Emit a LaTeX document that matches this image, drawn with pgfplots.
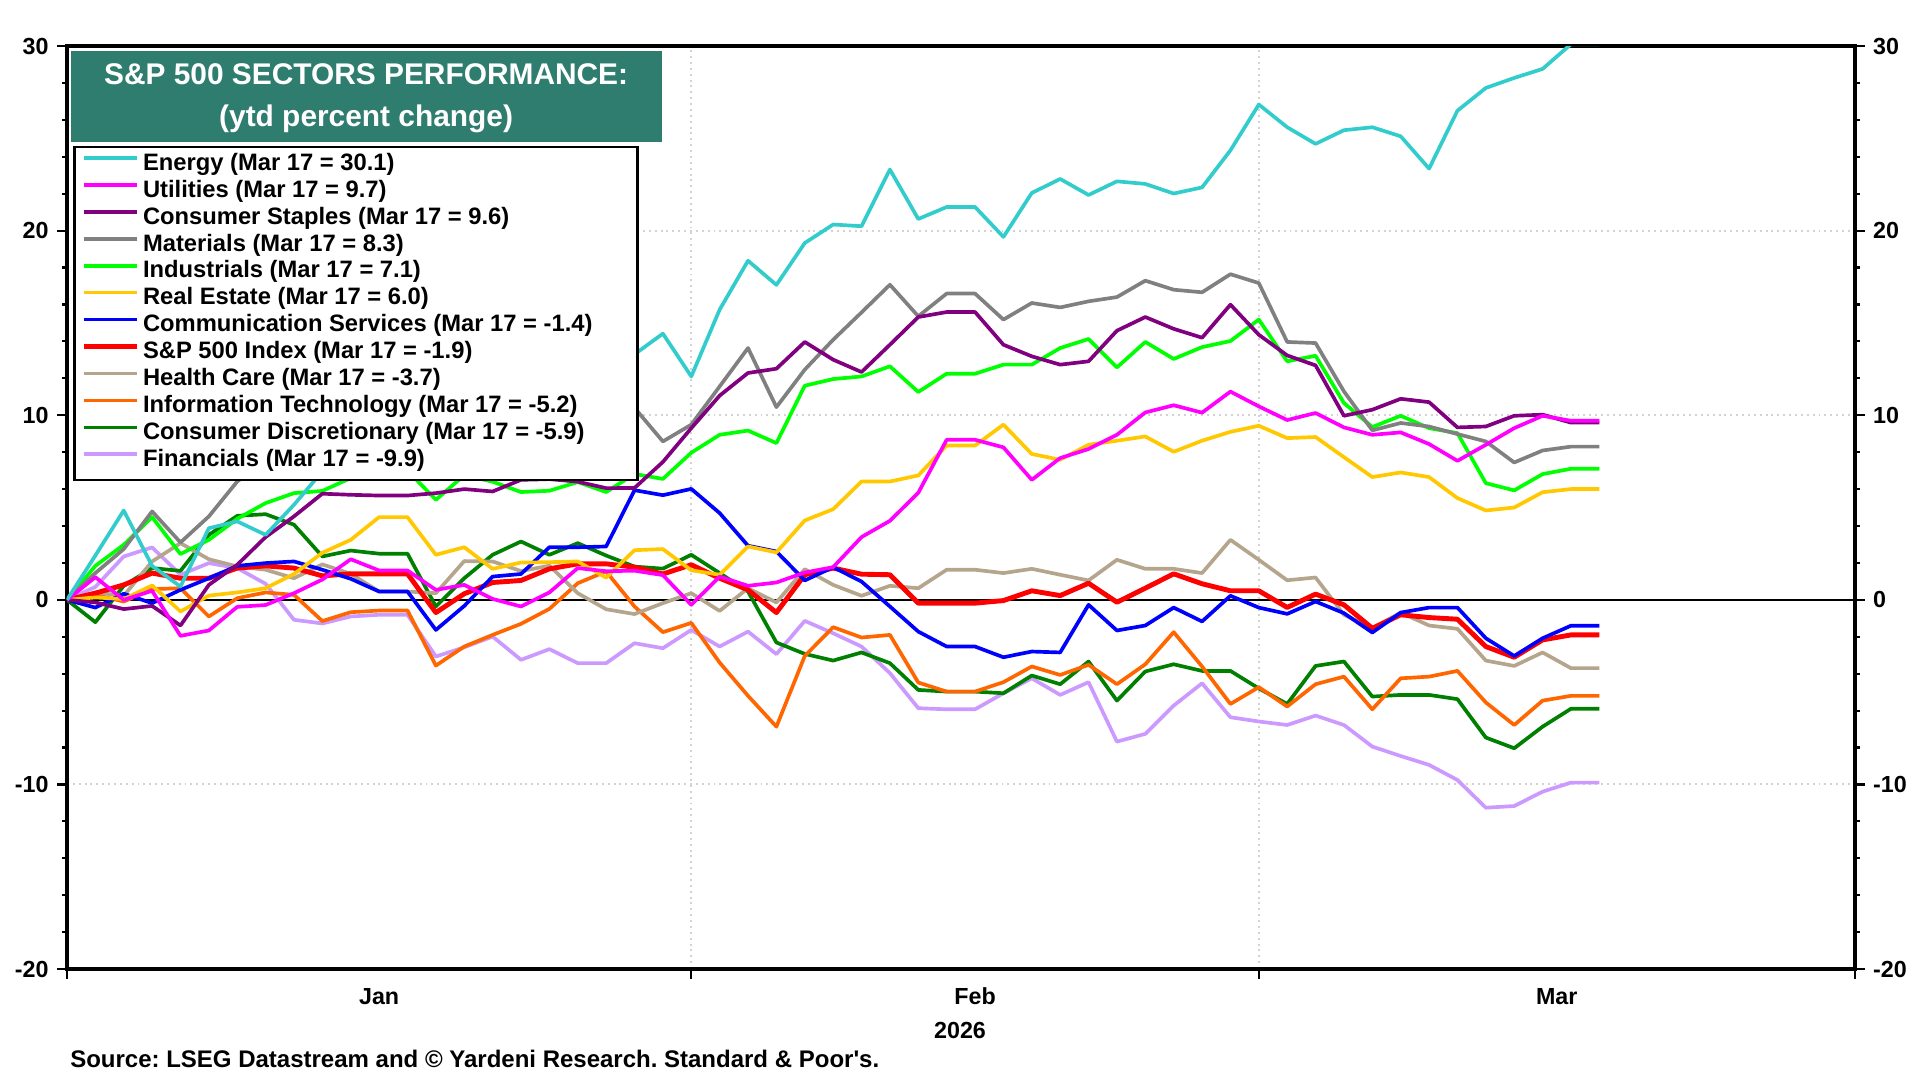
\documentclass[border=0pt]{standalone}
\usepackage{fontspec}
\setmainfont{Liberation Sans}
\usepackage{pgfplots}
\usepackage{pgfplotstable}
\pgfplotsset{compat=1.18}
\frenchspacing
\definecolor{cEn}{RGB}{51,204,204}
\definecolor{cUt}{RGB}{255,0,255}
\definecolor{cSt}{RGB}{128,0,128}
\definecolor{cMa}{RGB}{128,128,128}
\definecolor{cIn}{RGB}{0,255,0}
\definecolor{cRe}{RGB}{255,200,0}
\definecolor{cCo}{RGB}{0,0,255}
\definecolor{cSp}{RGB}{255,0,0}
\definecolor{cHc}{RGB}{180,165,140}
\definecolor{cIt}{RGB}{255,102,0}
\definecolor{cCd}{RGB}{0,128,0}
\definecolor{cFi}{RGB}{204,153,255}
\definecolor{cTitle}{RGB}{47,125,110}
\pgfplotstableread{
i en ut st ma in re co sp hc it cd fi
0 0 0 0 0 0 0 0 0 0 0 0 0
1 2.4 1.23 -0.14 1.45 1.84 0.13 -0.42 0.36 0.4 0.27 -1.21 0.7
2 4.84 0 -0.5 2.75 2.98 0.04 0.33 0.81 0.22 -0.09 0.76 2.35
3 1.84 0.49 -0.33 4.79 4.48 0.78 -0.18 1.45 2.08 0.58 1.72 2.84
4 0.72 -1.95 -1.39 3.11 2.48 -0.63 0.54 1.17 3.07 0.63 1.57 1.36
5 3.88 -1.66 0.81 4.52 3.25 0.23 1.17 1.17 2.2 -0.9 3.52 1.99
6 4.25 -0.38 1.9 6.41 4.39 0.4 1.84 1.72 1.81 0.09 4.55 1.72
7 3.52 -0.28 3.4 7.6 5.24 0.63 1.99 1.84 1.63 0.4 4.64 0.87
8 5.15 0.36 4.52 8.2 5.78 1.4 2.08 1.72 1.17 0.27 4.07 -1.08
9 6.96 1.1 5.75 9.4 5.9 2.55 1.63 1.3 1.92 -1.15 2.35 -1.28
10 7.6 2.2 5.69 9.0 6.6 3.25 1.14 1.41 1.41 -0.67 2.67 -0.9
11 8.4 1.59 5.65 9.4 7.0 4.48 0.45 1.41 0.45 -0.58 2.5 -0.81
12 8.4 1.59 5.65 9.4 7.0 4.48 0.45 1.41 0.45 -0.58 2.5 -0.81
13 7.8 0.54 5.78 7.6 5.42 2.44 -1.63 -0.69 0.36 -3.56 -0.36 -3.07
14 9.3 0.81 6.0 9.2 6.75 2.85 -0.33 0.33 2.1 -2.53 1.17 -2.57
15 10.4 0.05 5.87 9.8 6.4 1.68 1.26 0.94 2.08 -1.9 2.44 -1.99
16 11.2 -0.36 6.5 10.3 5.84 2.02 1.4 1.05 1.56 -1.3 3.16 -3.25
17 12.3 0.4 6.54 11.2 5.91 2.04 2.85 1.68 1.85 -0.49 2.44 -2.67
18 12.9 1.72 6.4 10.6 6.38 2.08 2.85 1.95 0.36 0.9 3.07 -3.43
19 13.8 1.55 6.05 11.5 5.84 1.2 2.89 1.95 -0.51 1.54 2.4 -3.43
20 13.3 1.58 6.06 10.4 6.82 2.69 5.94 1.77 -0.77 -0.36 1.8 -2.35
21 14.42 1.34 7.47 8.58 6.55 2.75 5.67 1.4 -0.18 -1.75 1.69 -2.62
22 12.10 -0.27 9.3 9.49 7.97 1.6 6.01 1.9 0.36 -1.25 2.44 -1.63
23 15.72 1.26 11.06 11.56 8.94 1.36 4.70 1.17 -0.60 -3.40 1.45 -2.53
24 18.37 0.76 12.29 13.64 9.17 2.89 2.93 0.54 0.63 -5.20 0.45 -1.72
25 17.06 0.94 12.52 10.44 8.49 2.57 2.62 -0.69 -0.14 -6.87 -2.31 -2.94
26 19.33 1.48 13.97 12.47 11.60 4.30 1.05 1.36 1.66 -3.04 -2.93 -1.14
27 20.33 1.77 13.01 14.09 11.96 4.91 1.77 1.72 0.81 -1.48 -3.29 -1.81
28 20.24 3.40 12.34 15.57 12.10 6.41 0.99 1.39 0.22 -2.04 -2.85 -2.53
29 23.31 4.28 13.82 17.07 12.65 6.41 -0.36 1.36 0.76 -1.90 -3.43 -3.97
30 20.63 5.80 15.32 15.36 11.26 6.74 -1.72 -0.18 0.63 -4.48 -4.88 -5.87
31 21.28 8.67 15.59 16.59 12.25 8.36 -2.53 -0.18 1.63 -4.97 -4.97 -5.93
32 21.28 8.67 15.59 16.59 12.25 8.36 -2.53 -0.18 1.63 -4.97 -4.97 -5.93
33 19.66 8.26 13.82 15.18 12.74 9.49 -3.11 -0.04 1.45 -4.46 -5.06 -5.06
34 22.04 6.50 13.19 16.08 12.74 7.90 -2.80 0.49 1.68 -3.61 -4.10 -4.25
35 22.80 7.68 12.74 15.84 13.64 7.59 -2.85 0.23 1.36 -4.07 -4.57 -5.15
36 21.93 8.17 12.92 16.17 14.13 8.40 -0.27 0.90 1.05 -3.52 -3.34 -4.46
37 22.67 8.94 14.58 16.40 12.59 8.62 -1.66 -0.13 2.17 -4.57 -5.46 -7.68
38 22.53 10.15 15.32 17.29 13.97 8.85 -1.39 0.63 1.68 -3.49 -3.88 -7.26
39 22.01 10.54 14.68 16.80 13.05 8.02 -0.42 1.41 1.68 -1.75 -3.49 -5.73
40 22.34 10.14 14.20 16.66 13.69 8.62 -1.17 0.87 1.45 -3.61 -3.85 -4.52
41 24.35 11.28 15.99 17.64 14.02 9.10 0.22 0.49 3.25 -5.64 -3.85 -6.36
42 26.83 10.48 14.36 17.16 15.18 9.43 -0.42 0.49 2.17 -4.73 -4.80 -6.59
43 25.60 9.74 13.24 13.97 12.92 8.76 -0.76 -0.41 1.06 -5.78 -5.64 -6.78
44 24.70 10.12 12.70 13.91 13.22 8.82 -0.09 0.31 1.21 -4.57 -3.58 -6.27
45 25.44 9.34 9.97 11.29 10.66 7.73 -0.72 -0.27 -0.81 -4.16 -3.34 -6.78
46 25.60 8.94 10.30 9.18 9.36 6.65 -1.77 -1.54 -1.54 -5.93 -5.24 -7.95
47 25.11 9.07 10.89 9.58 9.97 6.90 -0.69 -0.81 -0.69 -4.25 -5.15 -8.46
48 23.36 8.44 10.71 9.39 9.30 6.65 -0.42 -0.96 -1.39 -4.16 -5.15 -8.94
49 26.50 7.53 9.34 8.98 9.03 5.51 -0.42 -1.05 -1.57 -3.85 -5.38 -9.76
50 27.73 8.40 9.39 8.58 6.32 4.84 -2.08 -2.53 -3.29 -5.56 -7.46 -11.26
51 28.27 9.30 9.97 7.44 5.93 5.00 -3.04 -3.11 -3.58 -6.78 -8.04 -11.17
52 28.76 9.97 10.03 8.09 6.81 5.83 -2.08 -2.17 -2.85 -5.46 -6.87 -10.39
53 30.1 9.7 9.6 8.3 7.1 6.0 -1.4 -1.9 -3.7 -5.2 -5.9 -9.9
54 30.1 9.7 9.6 8.3 7.1 6.0 -1.4 -1.9 -3.7 -5.2 -5.9 -9.9
}\sectors
\newcommand{\tfont}{\bfseries\fontsize{9.5}{11}\selectfont}
\begin{document}
\begin{tikzpicture}[x=1pt,y=1pt]
\useasboundingbox (0,0) rectangle (784,441);
\begin{axis}[
  at={(27.35pt,45.3pt)}, anchor=south west,
  width=730pt, height=376.9pt, scale only axis,
  xmin=0, xmax=63, ymin=-20, ymax=30,
  xtick={0,22,42,63}, xticklabels={},
  extra x ticks={11,32,52.5}, extra x tick labels={Jan,Feb,Mar},
  extra x tick style={major tick length=0pt, grid=none,
     tick label style={anchor=base, yshift=-14.3pt}},
  ytick={-20,-10,0,10,20,30}, yticklabels={-20,-10,0,10,20,30},
  extra y ticks={0}, extra y tick labels={},
  extra y tick style={grid=major, major tick length=0pt,
     major grid style={black, solid, line width=0.6pt}},
  minor y tick num=4,
  tick align=outside,
  xtick pos=bottom, ytick pos=left,
  major tick length=4pt, minor tick length=2pt,
  tick style={black, line width=0.9pt},
  xmajorgrids, ymajorgrids,
  major grid style={gray!35, line width=0.8pt, dash pattern=on 0.8pt off 1.6pt},
  axis line style={line width=1.5pt},
  tick label style={font=\tfont},
  legend style={at={(0.00363,0.8920)}, anchor=north west, draw=black, fill=white,
     line width=1pt, inner xsep=3.0pt, inner ysep=2pt, row sep=0pt, column sep=1.3pt,
     font=\bfseries\fontsize{9.7}{11}\selectfont,
     nodes={inner sep=0pt, text height=7.5pt, text depth=3.5pt}},
  legend cell align=left,
  reverse legend,
  legend image code/.code={\draw[#1] (0pt,3pt) -- (21.6pt,3pt);},
  every axis plot/.append style={line width=1.5pt, line join=round},
]
\addplot[cFi] table[x=i,y=fi]{\sectors};
\addlegendentry{Financials (Mar 17 = -9.9)}
\addplot[cCd] table[x=i,y=cd]{\sectors};
\addlegendentry{Consumer Discretionary (Mar 17 = -5.9)}
\addplot[cIt] table[x=i,y=it]{\sectors};
\addlegendentry{Information Technology (Mar 17 = -5.2)}
\addplot[cHc] table[x=i,y=hc]{\sectors};
\addlegendentry{Health Care (Mar 17 = -3.7)}
\addplot[cSp, line width=2.0pt] table[x=i,y=sp]{\sectors};
\addlegendentry{S\&P 500 Index (Mar 17 = -1.9)}
\addplot[cCo] table[x=i,y=co]{\sectors};
\addlegendentry{Communication Services (Mar 17 = -1.4)}
\addplot[cRe] table[x=i,y=re]{\sectors};
\addlegendentry{Real Estate (Mar 17 = 6.0)}
\addplot[cIn] table[x=i,y=in]{\sectors};
\addlegendentry{Industrials (Mar 17 = 7.1)}
\addplot[cMa] table[x=i,y=ma]{\sectors};
\addlegendentry{Materials (Mar 17 = 8.3)}
\addplot[cSt] table[x=i,y=st]{\sectors};
\addlegendentry{Consumer Staples (Mar 17 = 9.6)}
\addplot[cUt] table[x=i,y=ut]{\sectors};
\addlegendentry{Utilities (Mar 17 = 9.7)}
\addplot[cEn] table[x=i,y=en]{\sectors};
\addlegendentry{\makebox[199pt][l]{Energy (Mar 17 = 30.1)}}
\end{axis}
\begin{axis}[
  at={(27.35pt,45.3pt)}, anchor=south west,
  width=730pt, height=376.9pt, scale only axis,
  xmin=0, xmax=63, ymin=-20, ymax=30,
  hide x axis, axis y line*=right,
  ytick={-20,-10,0,10,20,30}, yticklabels={-20,-10,0,10,20,30},
  minor y tick num=4, tick align=outside,
  major tick length=4pt, minor tick length=2pt,
  tick style={black, line width=0.9pt},
  axis line style={line width=1.5pt},
  tick label style={font=\tfont},
]
\addplot[draw=none] coordinates {(0,0)};
\end{axis}
\fill[cTitle] (28.8,383.1) rectangle (270.3,420.3);
\node[anchor=base, text=white, inner sep=0pt, font=\bfseries\fontsize{12.2}{14}\selectfont] at (149.5,406.3) {S\&P 500 SECTORS PERFORMANCE:};
\node[anchor=base, text=white, inner sep=0pt, font=\bfseries\fontsize{12.2}{14}\selectfont] at (149.5,389.3) {(ytd percent change)};
\node[anchor=base, inner sep=0pt, font=\tfont] at (392,17) {2026};
\node[anchor=base west, inner sep=0pt, font=\bfseries\fontsize{9.8}{11}\selectfont] at (28.5,5) {Source: LSEG Datastream and © Yardeni Research. Standard \& Poor\textquotesingle s.};
\end{tikzpicture}
\end{document}
